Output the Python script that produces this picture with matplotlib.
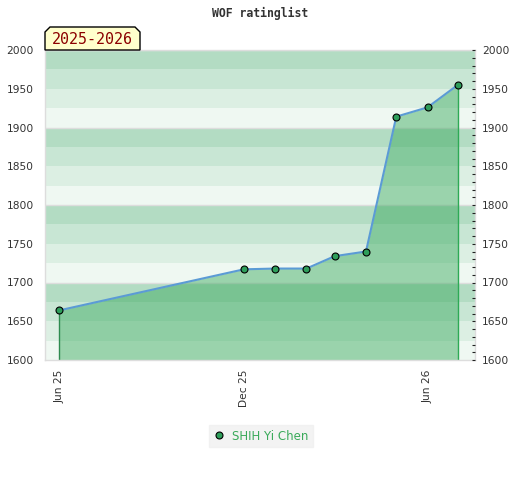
import matplotlib
matplotlib.use("Agg")
import matplotlib.pyplot as plt
import matplotlib.dates as mdates
from matplotlib.lines import Line2D
from matplotlib.patches import Polygon
from matplotlib.ticker import MultipleLocator
import datetime as dt

# ---- data ----
dates = ["2025-06-01", "2025-12-01", "2026-01-01", "2026-02-01", "2026-03-01",
         "2026-04-01", "2026-05-01", "2026-06-01", "2026-07-01"]
ratings = [1664, 1717, 1718, 1718, 1734, 1740, 1914, 1926, 1955]
player = "SHIH Yi Chen"
season = "2025-2026"
title = "WOF ratinglist"
xticks = ["2025-06-01", "2025-12-01", "2026-06-01"]

x = [dt.datetime.strptime(d, "%Y-%m-%d") for d in dates]
xt = [dt.datetime.strptime(d, "%Y-%m-%d") for d in xticks]

fig = plt.figure(figsize=(5.2, 4.8), dpi=100)
ax = fig.add_axes([45/520, 1-360/480, 430/520, 310/480])

ymin, ymax = 1600, 2000
band_colors = ['#eff8f2', '#dcefe3', '#c8e6d4', '#b3dcc3']
for lo in range(ymin, ymax, 25):
    ax.axhspan(lo, lo + 25, color=band_colors[((lo - ymin) % 100) // 25], lw=0, zorder=0)
for g in range(ymin + 100, ymax + 1, 100):
    ax.axhline(g, color='#dddddd', lw=1, zorder=0.5)

ax.fill_between(x, ratings, ymin, color='#33a658', alpha=0.45, lw=0, zorder=1)
ax.vlines(x[0], ymin, ratings[0], color='#2e8b4f', lw=1, zorder=2)
ax.vlines(x[-1], ymin, ratings[-1], color='#2eaa55', lw=1, zorder=2)
ax.plot(x, ratings, color='#5b9bd5', lw=1.5, zorder=3)
ax.plot(x, ratings, 'o', ms=5, mfc='#2e9e5a', mec='black', mew=0.8, zorder=4)

ax.set_ylim(ymin, ymax)
ax.set_xlim(dt.datetime(2025, 5, 18), dt.datetime(2026, 7, 18))
ax.set_xticks(xt)
ax.xaxis.set_major_formatter(mdates.DateFormatter('%b %y'))
ax.tick_params(axis='x', length=0, labelsize=7.7, labelrotation=90, pad=7, colors='#333333')
ax.yaxis.set_major_locator(MultipleLocator(50))
ax.tick_params(axis='y', length=0, labelsize=7.7, pad=8, colors='#333333')
for s in ax.spines.values():
    s.set_color('#dddddd')
    s.set_linewidth(1)

ax2 = ax.twinx()
ax2.set_ylim(ymin, ymax)
ax2.yaxis.set_major_locator(MultipleLocator(50))
ax2.yaxis.set_minor_locator(MultipleLocator(10))
ax2.tick_params(axis='y', which='both', direction='in', length=2.5, width=0.8, color='#222222',
                labelsize=7.7, pad=5, labelcolor='#333333')
for s in ax2.spines.values():
    s.set_visible(False)

fig.text(0.5, 1-13/480, title, ha='center', va='center', family='DejaVu Sans Mono',
         weight='bold', fontsize=8.3, color='#333333')

# season label box with cut top corners
x0, x1, y0, y1, c = 45, 140, 480-50, 480-27, 5
pts = [(x0, y0), (x1, y0), (x1, y1 - c), (x1 - c, y1), (x0 + c, y1), (x0, y1 - c)]
poly = Polygon([(px/520, py/480) for px, py in pts], closed=True, transform=fig.transFigure,
               facecolor='#ffffcc', edgecolor='black', lw=1, zorder=10)
fig.patches.append(poly)
fig.text((x0 + x1)/2/520, (y0 + y1)/2/480 - 0.002, season, ha='center', va='center',
         family='DejaVu Sans Mono', fontsize=10.8, color='#8b0000', zorder=11)

h = Line2D([], [], marker='o', ls='none', ms=5, mfc='#2e9e5a', mec='black', mew=0.8)
leg = fig.legend([h], [player], loc='center', bbox_to_anchor=(261/520, 1-436/480),
                 frameon=True, fontsize=8.5, handlelength=0.8, handletextpad=0.7,
                 borderpad=0.4, borderaxespad=0, fancybox=False)
leg.get_frame().set_facecolor('#f0f0f0')
leg.get_frame().set_edgecolor('#f0f0f0')
for t in leg.get_texts():
    t.set_color('#3aaa5a')

fig.savefig('out.png', dpi=100)
